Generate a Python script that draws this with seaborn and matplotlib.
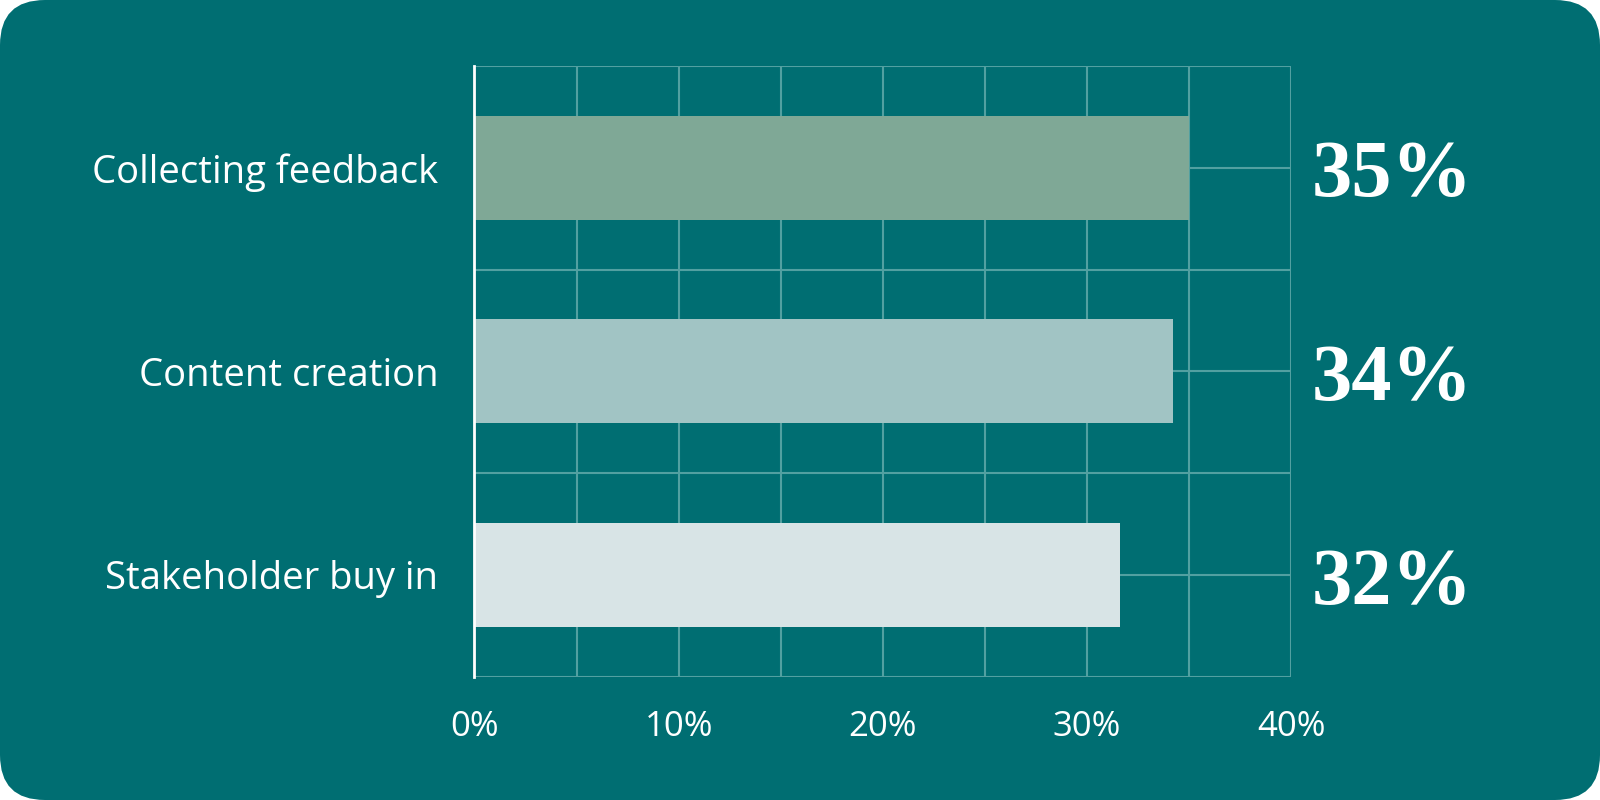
import matplotlib
matplotlib.use("Agg")
import matplotlib.pyplot as plt
import seaborn as sns
import pandas as pd
from matplotlib.patches import FancyBboxPatch
from matplotlib.ticker import MultipleLocator, FuncFormatter

categories = ["Collecting feedback", "Content creation", "Stakeholder buy in"]
values = [35.0, 34.2, 31.6]
value_labels = ["35%", "34%", "32%"]
bar_colors = ["#7fa896", "#a1c4c4", "#d8e4e6"]

BG = "#006e72"
GRID = "#52a0a1"

sns.set_theme(style="white")
plt.rcParams["font.family"] = ["Open Sans", "DejaVu Sans"]

fig = plt.figure(figsize=(16, 8), dpi=100)
fig.patch.set_alpha(0)
bg = FancyBboxPatch((0, 0), 16, 8, boxstyle="round,pad=0,rounding_size=0.45",
                    transform=fig.dpi_scale_trans, facecolor=BG, edgecolor="none", zorder=-10)
fig.patches.append(bg)

ax = fig.add_axes([0.2965, 0.154, 0.5105, 0.7635])
ax.set_facecolor("none")

df = pd.DataFrame({"cat": categories, "val": values})
sns.barplot(data=df, x="val", y="cat", hue="cat", palette=bar_colors, orient="h",
            width=0.51, legend=False, ax=ax, saturation=1, linewidth=0, zorder=3)

ax.set_xlim(0, 40)
ax.set_ylim(2.5, -0.5)
ax.xaxis.set_major_locator(MultipleLocator(10))
ax.xaxis.set_minor_locator(MultipleLocator(5))
ax.xaxis.set_major_formatter(FuncFormatter(lambda v, p: f"{int(v)}%"))
ax.yaxis.set_minor_locator(MultipleLocator(0.5))
ax.grid(True, axis="both", which="both", color=GRID, linewidth=1.5, zorder=0)
ax.set_axisbelow(True)
for s in ["top", "right", "bottom"]:
    ax.spines[s].set_visible(False)
ax.spines["left"].set_color("white")
ax.spines["left"].set_linewidth(2)
ax.spines["left"].set_zorder(5)

ax.set_xlabel("")
ax.set_ylabel("")
ax.tick_params(axis="y", which="both", length=0, pad=26, labelsize=27.5, labelcolor="white")
ax.tick_params(axis="x", which="both", length=0, pad=24, labelsize=25, labelcolor="white")

for i, lab in enumerate(value_labels):
    ax.text(1.025, i + 0.045, lab, transform=ax.get_yaxis_transform(), ha="left", va="center",
            fontsize=58, fontweight="bold", color="white", family=["Liberation Serif"])

fig.savefig("out.png", dpi=100, transparent=False)
